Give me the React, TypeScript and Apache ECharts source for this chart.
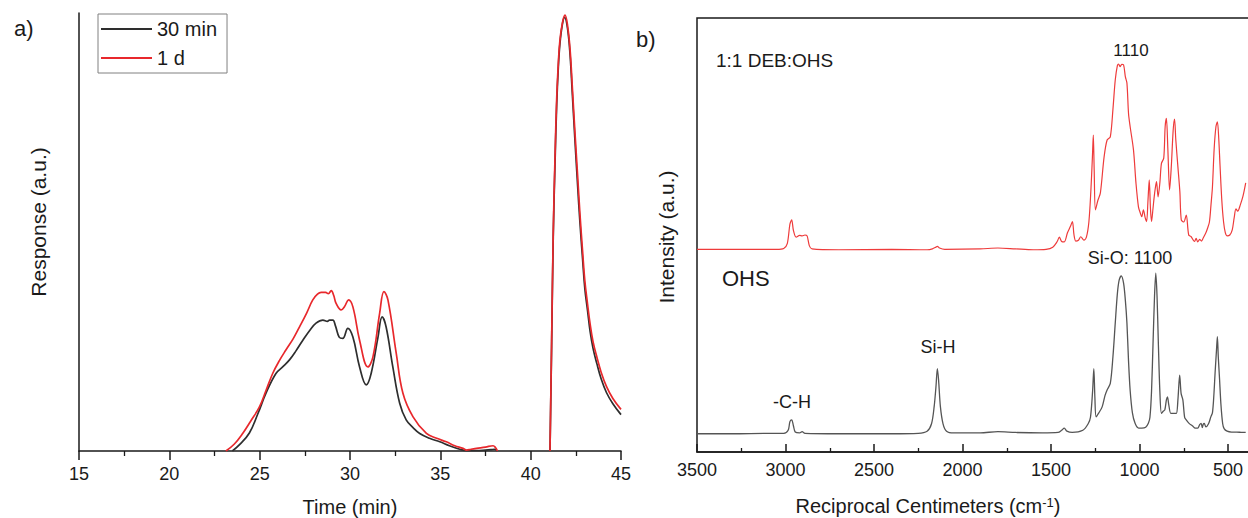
import React, { useEffect, useRef } from "react";
import * as echarts from "echarts";

// ---------- Panel a) GPC traces: [time (min), response (a.u.)] ----------
const gpc30Min: [number, number | string][] = [
  [23.49, 0], [23.9, 1.5], [24.43, 4.1], [24.9, 8.5], [25.35, 13.2], [25.9, 17.7], [26.3, 19.3],
  [26.65, 20.8], [27.0, 22.8], [27.39, 25.3], [27.8, 27.7], [28.12, 29.2], [28.5, 29.9], [28.75, 29.6],
  [28.87, 29.9], [29.05, 29.9], [29.2, 28.5], [29.4, 26.0], [29.6, 25.7], [29.88, 28.0], [30.16, 26.0],
  [30.53, 19.2], [30.9, 15.1], [31.17, 17.7], [31.55, 26.0], [31.78, 30.6], [32.0, 28.3], [32.37, 19.2],
  [32.75, 10.9], [33.11, 7.1], [33.5, 5.3], [33.86, 4.0], [34.4, 2.9], [34.97, 2.1], [35.5, 1.2],
  [36.08, 0.4], [36.45, 0.1], [37.0, 0.1], [37.5, 0.2], [37.8, 0.3], [38.0, 0.4], [38.15, 0],
  [39.5, "-"],
  [41.07, 0], [41.16, 24], [41.25, 49], [41.35, 66], [41.44, 79], [41.53, 87.5], [41.62, 93],
  [41.76, 97.5], [41.88, 99], [42.04, 96.5], [42.18, 90.5], [42.3, 82], [42.45, 71], [42.6, 60.5],
  [42.73, 52], [42.87, 44], [43.0, 37], [43.15, 32], [43.29, 27.3], [43.45, 23.5], [43.66, 20],
  [43.9, 16.5], [44.2, 13.3], [44.55, 10.8], [45.0, 8.3],
];

const gpc1Day: [number, number | string][] = [
  [23.13, 0], [23.6, 1.6], [24.06, 4.0], [24.5, 6.8], [24.98, 10.0], [25.35, 13.8], [25.72, 17.7],
  [26.1, 20.7], [26.46, 23.1], [26.85, 25.6], [27.2, 28.3], [27.6, 31.5], [27.94, 34.5], [28.2, 35.8],
  [28.4, 36.2], [28.65, 36.2], [28.8, 35.9], [28.96, 36.6], [29.1, 35.5], [29.23, 33.7], [29.51, 32.2],
  [29.7, 33.0], [29.92, 34.5], [30.16, 32.9], [30.53, 25.3], [30.99, 19.2], [31.27, 21.5], [31.64, 31.4],
  [31.88, 36.4], [32.1, 34.5], [32.56, 22.3], [32.93, 13.2], [33.49, 7.8], [34.23, 4.0], [34.8, 2.9],
  [35.33, 2.1], [35.8, 1.2], [36.26, 0.6], [36.45, 0.2], [36.7, 0.4], [37.0, 0.6], [37.5, 0.9],
  [37.92, 1.2], [38.05, 0.8], [38.16, 0],
  [39.5, "-"],
  [41.07, 0], [41.16, 25], [41.25, 50], [41.35, 67.5], [41.44, 80.4], [41.53, 88.5], [41.62, 93.8],
  [41.76, 97.8], [41.9, 99.5], [42.04, 97.2], [42.18, 91.7], [42.3, 83.5], [42.45, 72.8], [42.6, 62.8],
  [42.73, 54], [42.87, 45.8], [43.0, 38.8], [43.15, 33.5], [43.29, 29.0], [43.45, 25], [43.66, 21.5],
  [43.9, 18], [44.2, 14.7], [44.55, 12.0], [45.0, 9.5],
];

const gpcTimeTicks = { min: 15, max: 45, interval: 5 };

// ---------- Panel b) FTIR spectra: [wavenumber (cm-1), intensity (a.u.)] ----------
const ftirOhs: [number, number][] = [
  [3500, 4.2], [3300, 4.2], [3100, 4.3], [3010, 4.3], [2985, 5.0], [2975, 7.0], [2965, 7.4], [2955, 6.0],
  [2945, 4.6], [2920, 4.4], [2906, 4.7], [2890, 4.3], [2700, 4.2], [2400, 4.2], [2250, 4.3], [2200, 4.8],
  [2175, 6.5], [2160, 10.5], [2150, 15.0], [2142, 19.2], [2135, 16.5], [2125, 10.5], [2110, 6.5],
  [2090, 4.8], [2050, 4.4], [1900, 4.4], [1800, 4.7], [1700, 4.5], [1550, 4.4], [1460, 4.5], [1440, 5.0],
  [1425, 5.5], [1410, 4.8], [1380, 4.5], [1320, 5.0], [1290, 6.5], [1277, 8.0], [1265, 14.0], [1258, 19.2],
  [1252, 12.5], [1245, 8.1], [1230, 9.0], [1211, 10.4], [1195, 13.0], [1183, 14.3], [1165, 15.8],
  [1150, 22.0], [1137, 29.7], [1125, 36.5], [1115, 39.6], [1103, 40.6], [1090, 38.9], [1080, 35.0],
  [1071, 29.7], [1062, 21.0], [1053, 14.3], [1040, 9.0], [1025, 6.6], [1005, 5.5], [987, 5.5], [965, 5.7],
  [950, 6.6], [941, 8.0], [932, 14.0], [923, 25.8], [915, 36.0], [908, 41.2], [901, 36.0], [894, 25.8],
  [885, 14.0], [876, 8.9], [866, 9.4], [857, 9.7], [848, 12.0], [842, 12.7], [835, 11.0], [823, 8.9],
  [808, 8.9], [792, 8.9], [783, 12.0], [773, 17.7], [765, 13.5], [755, 12.0], [745, 8.0], [736, 7.4],
  [720, 6.6], [700, 6.0], [685, 5.5], [671, 5.5], [660, 6.3], [652, 6.6], [645, 5.6], [640, 6.4],
  [634, 6.6], [625, 5.8], [610, 6.5], [597, 8.1], [588, 9.0], [580, 13.0], [573, 18.2], [565, 23.5],
  [560, 26.6], [555, 22.0], [548, 17.0], [540, 11.0], [530, 6.5], [522, 5.4], [505, 4.8], [480, 4.6],
  [450, 4.6], [420, 4.5], [400, 4.5],
];

const ftirDebOhs: [number, number][] = [
  [3500, 46.7], [3200, 46.7], [3050, 46.7], [3010, 46.9], [2990, 48.0], [2975, 52.5], [2965, 53.5],
  [2955, 51.0], [2940, 49.5], [2920, 49.9], [2906, 49.8], [2890, 50.0], [2878, 49.8], [2865, 47.5],
  [2850, 46.8], [2700, 46.6], [2400, 46.7], [2200, 46.6], [2170, 46.8], [2150, 47.2], [2142, 47.4],
  [2130, 47.0], [2100, 46.7], [1900, 46.8], [1800, 47.0], [1700, 46.8], [1600, 46.6], [1528, 46.7],
  [1490, 47.2], [1465, 48.5], [1453, 49.5], [1440, 48.5], [1425, 48.4], [1407, 50.5], [1390, 52.0],
  [1379, 53.1], [1370, 50.0], [1360, 48.6], [1345, 48.8], [1332, 49.6], [1314, 48.8], [1300, 49.5],
  [1286, 53.0], [1275, 60.0], [1266, 68.0], [1261, 73.0], [1256, 65.0], [1249, 55.8], [1235, 58.0],
  [1221, 59.7], [1200, 68.0], [1183, 71.9], [1165, 72.6], [1150, 79.0], [1137, 85.7], [1125, 89.0],
  [1118, 89.4], [1110, 88.8], [1100, 89.3], [1090, 89.2], [1080, 86.5], [1071, 85.0], [1062, 78.0],
  [1053, 75.0], [1034, 69.6], [1020, 62.0], [1006, 56.5], [995, 55.0], [987, 54.2], [978, 55.8],
  [968, 54.0], [960, 53.1], [952, 58.0], [945, 62.7], [938, 56.0], [932, 53.1], [924, 56.0], [917, 58.8],
  [910, 61.0], [904, 62.3], [895, 58.8], [885, 62.0], [876, 66.5], [863, 67.7], [855, 75.0], [848, 76.9],
  [840, 70.0], [830, 60.4], [820, 66.0], [810, 74.0], [802, 76.7], [795, 72.0], [783, 65.7], [772, 60.0],
  [764, 53.5], [750, 53.0], [736, 54.6], [722, 50.0], [708, 49.6], [690, 48.5], [680, 49.2], [671, 48.4],
  [660, 49.0], [650, 48.6], [640, 49.3], [625, 50.5], [616, 51.5], [605, 53.0], [596, 57.0], [588, 61.0],
  [578, 70.0], [568, 75.0], [560, 76.1], [552, 72.0], [545, 66.0], [535, 58.0], [525, 53.0], [515, 50.5],
  [504, 49.8], [490, 50.0], [476, 51.2], [465, 54.0], [455, 56.0], [445, 55.5], [430, 57.0], [415, 59.0],
  [400, 62.0],
];

const ftirTicks = { min: 0, max: 3500, interval: 500 };

const FONT = "'Liberation Sans', Arial, Helvetica, sans-serif";
const INK = "#1a1a1a";
const RED = "#e8282c";
const BLACK = "#2e2e2e";
const GRAY = "#555555";
const RED_B = "#ee3b3b";

export default function App() {
  const ref = useRef<HTMLDivElement>(null);

  useEffect(() => {
    if (!ref.current) return;
    const chart = echarts.init(ref.current, undefined, { renderer: "svg" });

    const txt = (text: string, x: number, y: number, size: number, align = "center", extra: any = {}) => ({
      type: "text",
      x,
      y,
      silent: true,
      ...extra,
      style: {
        text,
        fontSize: size,
        fontFamily: FONT,
        fill: INK,
        align,
        verticalAlign: "middle",
      },
    });

    const plain = (v: number) => String(v);

    const option: any = {
      animation: false,
      backgroundColor: "#ffffff",
      grid: [
        { left: 79, top: 13, width: 542, height: 438 },
        {
          left: 697, top: 18, width: 619.5, height: 434,
          show: true, borderColor: INK, borderWidth: 1.5, backgroundColor: "transparent",
        },
      ],
      legend: {
        data: ["30 min", "1 d"],
        orient: "vertical",
        left: 98,
        top: 14,
        icon: "rect",
        itemWidth: 51,
        itemHeight: 2,
        itemGap: 9,
        padding: [5, 10, 5, 3],
        borderColor: "#808080",
        borderWidth: 1,
        textStyle: { fontSize: 20, fontFamily: FONT, color: INK, lineHeight: 20 },
      },
      xAxis: [
        {
          gridIndex: 0,
          type: "value",
          ...gpcTimeTicks,
          axisLine: { show: true, lineStyle: { color: INK, width: 1.5 } },
          axisTick: { show: true, inside: false, length: 9, lineStyle: { color: INK, width: 1.5 } },
          minorTick: { show: true, splitNumber: 2, length: 5, lineStyle: { color: INK, width: 1.3 } },
          axisLabel: { margin: 14, fontSize: 18, fontFamily: FONT, color: INK, formatter: plain },
          splitLine: { show: false },
          minorSplitLine: { show: false },
        },
        {
          gridIndex: 1,
          type: "value",
          inverse: true,
          ...ftirTicks,
          axisLine: { show: true, lineStyle: { color: INK, width: 1.5 } },
          axisTick: { show: true, inside: true, length: 8, lineStyle: { color: INK, width: 1.5 } },
          minorTick: { show: true, splitNumber: 2, length: 4, lineStyle: { color: INK, width: 1.3 } },
          axisLabel: {
            margin: 9, fontSize: 18, fontFamily: FONT, color: INK, formatter: plain,
            showMinLabel: false,
          },
          splitLine: { show: false },
          minorSplitLine: { show: false },
        },
      ],
      yAxis: [
        {
          gridIndex: 0,
          type: "value",
          min: 0,
          max: 100,
          axisLine: { show: true, lineStyle: { color: INK, width: 1.5 } },
          axisTick: { show: false },
          axisLabel: { show: false },
          splitLine: { show: false },
        },
        {
          gridIndex: 1,
          type: "value",
          min: 0,
          max: 100,
          axisLine: { show: true, lineStyle: { color: INK, width: 1.5 } },
          axisTick: { show: false },
          axisLabel: { show: false },
          splitLine: { show: false },
        },
      ],
      series: [
        {
          name: "30 min", type: "line", xAxisIndex: 0, yAxisIndex: 0, data: gpc30Min,
          symbol: "none", smooth: 0.4, connectNulls: false,
          lineStyle: { color: BLACK, width: 1.7 }, itemStyle: { color: BLACK },
        },
        {
          name: "1 d", type: "line", xAxisIndex: 0, yAxisIndex: 0, data: gpc1Day,
          symbol: "none", smooth: 0.4, connectNulls: false,
          lineStyle: { color: RED, width: 1.7 }, itemStyle: { color: RED },
        },
        {
          name: "OHS", type: "line", xAxisIndex: 1, yAxisIndex: 1, data: ftirOhs,
          symbol: "none", smooth: 0.3,
          lineStyle: { color: GRAY, width: 1.3 }, itemStyle: { color: GRAY },
        },
        {
          name: "1:1 DEB:OHS", type: "line", xAxisIndex: 1, yAxisIndex: 1, data: ftirDebOhs,
          symbol: "none", smooth: 0.3,
          lineStyle: { color: RED_B, width: 1.2 }, itemStyle: { color: RED_B },
        },
      ],
      graphic: [
        txt("a)", 14, 28, 22, "left"),
        txt("b)", 636, 39, 22, "left"),
        txt("Response (a.u.)", 38, 222, 21, "center", { rotation: Math.PI / 2 }),
        txt("Time (min)", 350, 507, 20),
        txt("Intensity (a.u.)", 666, 237, 21, "center", { rotation: Math.PI / 2 }),
        {
          type: "text",
          x: 928,
          y: 506,
          silent: true,
          style: {
            text: "Reciprocal Centimeters (cm{sup|-1})",
            fontSize: 20,
            fontFamily: FONT,
            fill: INK,
            align: "center",
            verticalAlign: "middle",
            rich: {
              sup: { fontSize: 13, fontFamily: FONT, fill: INK, verticalAlign: "top", padding: [0, 0, 8, 0] },
            },
          },
        },
        txt("1:1 DEB:OHS", 716, 60, 19, "left"),
        txt("1110", 1131, 50, 17),
        txt("OHS", 722, 278, 22, "left"),
        txt("Si-O: 1100", 1130, 258, 18),
        txt("Si-H", 938, 347, 18),
        txt("-C-H", 792, 402, 18),
      ],
    };

    chart.setOption(option);
    return () => chart.dispose();
  }, []);

  return (
    <div style={{ position: "absolute", left: 0, top: 0, width: 1248, height: 518, overflow: "hidden", background: "#fff" }}>
      <div ref={ref} style={{ width: 1400, height: 518 }} />
    </div>
  );
}
